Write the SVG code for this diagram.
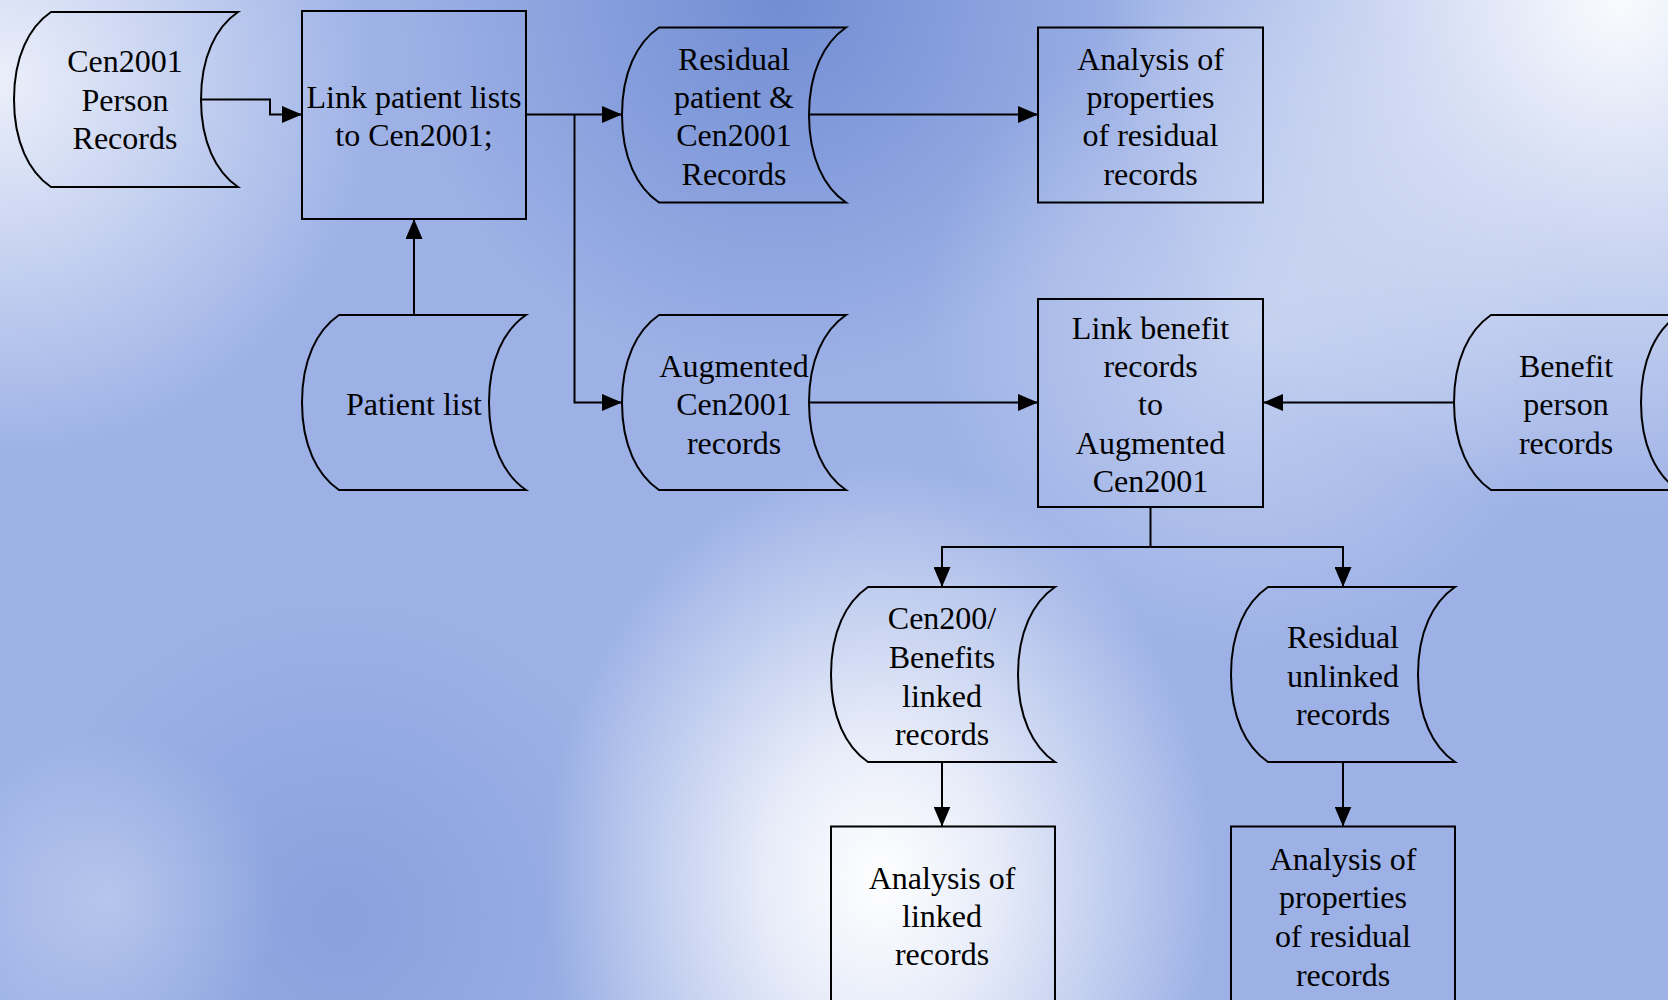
<svg xmlns="http://www.w3.org/2000/svg" width="1668" height="1000" viewBox="0 0 1668 1000">
<defs>
  <radialGradient id="gWhiteBottom" cx="880" cy="880" r="420" gradientUnits="userSpaceOnUse" gradientTransform="translate(880 880) scale(0.8 1) translate(-880 -880)">
    <stop offset="0" stop-color="#ffffff" stop-opacity="1"/>
    <stop offset="0.35" stop-color="#ffffff" stop-opacity="0.75"/>
    <stop offset="1" stop-color="#ffffff" stop-opacity="0"/>
  </radialGradient>
  <radialGradient id="gWhiteTR" cx="1620" cy="0" r="520" gradientUnits="userSpaceOnUse">
    <stop offset="0" stop-color="#ffffff" stop-opacity="0.95"/>
    <stop offset="0.5" stop-color="#ffffff" stop-opacity="0.45"/>
    <stop offset="1" stop-color="#ffffff" stop-opacity="0"/>
  </radialGradient>
  <radialGradient id="gWhiteTL" cx="0" cy="80" r="380" gradientUnits="userSpaceOnUse">
    <stop offset="0" stop-color="#ffffff" stop-opacity="0.8"/>
    <stop offset="1" stop-color="#ffffff" stop-opacity="0"/>
  </radialGradient>
  <radialGradient id="gWhiteMid" cx="1250" cy="330" r="330" gradientUnits="userSpaceOnUse">
    <stop offset="0" stop-color="#ffffff" stop-opacity="0.4"/>
    <stop offset="1" stop-color="#ffffff" stop-opacity="0"/>
  </radialGradient>
  <radialGradient id="gWhiteBL" cx="110" cy="900" r="170" gradientUnits="userSpaceOnUse">
    <stop offset="0" stop-color="#ffffff" stop-opacity="0.3"/>
    <stop offset="1" stop-color="#ffffff" stop-opacity="0"/>
  </radialGradient>
  <radialGradient id="gDarkTop" cx="780" cy="0" r="380" gradientUnits="userSpaceOnUse">
    <stop offset="0" stop-color="#6a87d0" stop-opacity="0.85"/>
    <stop offset="1" stop-color="#6a87d0" stop-opacity="0"/>
  </radialGradient>
  <radialGradient id="gDarkBL" cx="340" cy="920" r="320" gradientUnits="userSpaceOnUse">
    <stop offset="0" stop-color="#7a95d7" stop-opacity="0.6"/>
    <stop offset="1" stop-color="#7a95d7" stop-opacity="0"/>
  </radialGradient>
  <path id="store" d="M37,0 H224 C202,15 187,45 187,87.5 C187,130 202,160 224,175 H37 C15,160 0,130 0,87.5 C0,45 15,15 37,0 Z"/>
  <marker id="arr" markerUnits="userSpaceOnUse" markerWidth="20" markerHeight="17" refX="20" refY="8.5" orient="auto">
    <path d="M0,0 L20,8.5 L0,17 Z" fill="#000"/>
  </marker>
  <style>
    .shape { fill: none; stroke: #000; stroke-width: 2; }
    .conn { fill: none; stroke: #000; stroke-width: 2; marker-end: url(#arr); }
    .line { fill: none; stroke: #000; stroke-width: 2; }
    text { font-family: "Liberation Serif", "Times New Roman", serif; font-size: 32px; fill: #000; text-anchor: middle; }
  </style>
</defs>

<g id="background">
  <rect x="0" y="0" width="1668" height="1000" fill="#9db1e6"/>
  <rect x="0" y="0" width="1668" height="1000" fill="url(#gDarkTop)"/>
  <rect x="0" y="0" width="1668" height="1000" fill="url(#gDarkBL)"/>
  <rect x="0" y="0" width="1668" height="1000" fill="url(#gWhiteTL)"/>
  <rect x="0" y="0" width="1668" height="1000" fill="url(#gWhiteTR)"/>
  <rect x="0" y="0" width="1668" height="1000" fill="url(#gWhiteMid)"/>
  <rect x="0" y="0" width="1668" height="1000" fill="url(#gWhiteBL)"/>
  <rect x="0" y="0" width="1668" height="1000" fill="url(#gWhiteBottom)"/>
</g>

<g id="connectors">
  <path class="conn" d="M200,99.5 H270 V114.5 H302"/>
  <path class="conn" d="M526,114.5 H622"/>
  <path class="conn" d="M574.5,114.5 V402.5 H622"/>
  <path class="conn" d="M809,114.5 H1038"/>
  <path class="conn" d="M414,315 V219"/>
  <path class="conn" d="M809,402.5 H1038"/>
  <path class="conn" d="M1454,402.5 H1263"/>
  <path class="line" d="M1150.5,507 V547"/>
  <path class="conn" d="M1150.5,547 H942 V587"/>
  <path class="conn" d="M1150.5,547 H1343 V587"/>
  <path class="conn" d="M942,762 V826.5"/>
  <path class="conn" d="M1343,762 V826.5"/>
</g>

<g id="n-cen2001-person">
  <use href="#store" class="shape" x="14" y="12"/>
  <text><tspan x="125" y="72">Cen2001</tspan><tspan x="125" y="110.5">Person</tspan><tspan x="125" y="149">Records</tspan></text>
</g>

<g id="n-link-patient">
  <rect class="shape" x="302" y="11" width="224" height="208"/>
  <text><tspan x="414" y="107.5">Link patient lists</tspan><tspan x="414" y="146">to Cen2001;</tspan></text>
</g>

<g id="n-residual-patient">
  <use href="#store" class="shape" x="622" y="27.5"/>
  <text><tspan x="734" y="69.5">Residual</tspan><tspan x="734" y="108">patient &amp;</tspan><tspan x="734" y="146">Cen2001</tspan><tspan x="734" y="184.5">Records</tspan></text>
</g>

<g id="n-analysis-residual-1">
  <rect class="shape" x="1038" y="27.5" width="225" height="175"/>
  <text><tspan x="1150.5" y="69.5">Analysis of</tspan><tspan x="1150.5" y="108">properties</tspan><tspan x="1150.5" y="146">of residual</tspan><tspan x="1150.5" y="184.5">records</tspan></text>
</g>

<g id="n-patient-list">
  <use href="#store" class="shape" x="302" y="315"/>
  <text><tspan x="414" y="415">Patient list</tspan></text>
</g>

<g id="n-augmented">
  <use href="#store" class="shape" x="622" y="315"/>
  <text><tspan x="734" y="377">Augmented</tspan><tspan x="734" y="415">Cen2001</tspan><tspan x="734" y="453.5">records</tspan></text>
</g>

<g id="n-link-benefit">
  <rect class="shape" x="1038" y="299" width="225" height="208"/>
  <text><tspan x="1150.5" y="338.5">Link benefit</tspan><tspan x="1150.5" y="377">records</tspan><tspan x="1150.5" y="415">to</tspan><tspan x="1150.5" y="453.5">Augmented</tspan><tspan x="1150.5" y="492">Cen2001</tspan></text>
</g>

<g id="n-benefit-person">
  <use href="#store" class="shape" x="1454" y="315"/>
  <text><tspan x="1566" y="377">Benefit</tspan><tspan x="1566" y="415">person</tspan><tspan x="1566" y="453.5">records</tspan></text>
</g>

<g id="n-cen200-benefits">
  <use href="#store" class="shape" x="831" y="587"/>
  <text><tspan x="942" y="629">Cen200/</tspan><tspan x="942" y="667.5">Benefits</tspan><tspan x="942" y="706.5">linked</tspan><tspan x="942" y="745">records</tspan></text>
</g>

<g id="n-residual-unlinked">
  <use href="#store" class="shape" x="1231" y="587"/>
  <text><tspan x="1343" y="648">Residual</tspan><tspan x="1343" y="686.5">unlinked</tspan><tspan x="1343" y="725">records</tspan></text>
</g>

<g id="n-analysis-linked">
  <rect class="shape" x="831" y="826.5" width="224" height="208"/>
  <text><tspan x="942" y="888.5">Analysis of</tspan><tspan x="942" y="927">linked</tspan><tspan x="942" y="965">records</tspan></text>
</g>

<g id="n-analysis-residual-2">
  <rect class="shape" x="1231" y="826.5" width="224" height="208"/>
  <text><tspan x="1343" y="869.5">Analysis of</tspan><tspan x="1343" y="908">properties</tspan><tspan x="1343" y="947">of residual</tspan><tspan x="1343" y="985.5">records</tspan></text>
</g>
</svg>
